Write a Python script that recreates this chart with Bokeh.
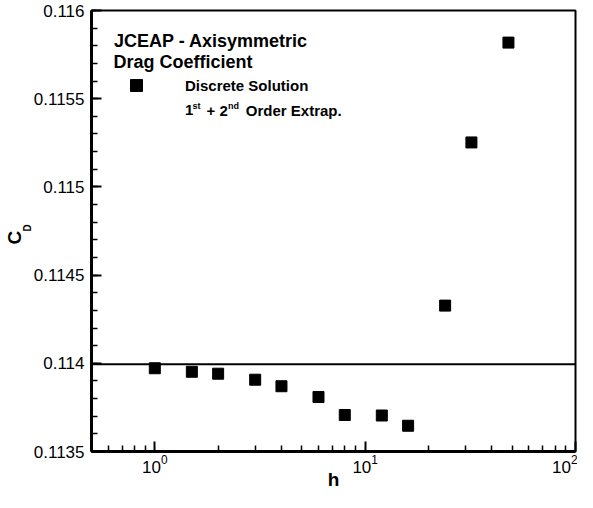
from bokeh.plotting import figure
from bokeh.models import (Range1d, FixedTicker, CustomJSTickFormatter, Span, Label,
                          Legend, LegendItem, LogTickFormatter, Title)
from bokeh.embed import file_html
from bokeh.resources import INLINE

# ---- data ----
h = [1, 1.5, 2, 3, 4, 6, 8, 12, 16, 24, 32, 48]
cd = [0.113972, 0.113952, 0.113941, 0.113907, 0.113870, 0.113809,
      0.113707, 0.113704, 0.113646, 0.114327, 0.115252, 0.115818]
cd_extrap = 0.113995

x_major = [1, 10, 100]
x_minor = [m * 10 ** e for e in (-1, 0, 1) for m in range(2, 10) if 0.5 <= m * 10 ** e <= 100]
y_major = [0.1135, 0.114, 0.1145, 0.115, 0.1155, 0.116]
y_minor = [round(0.1135 + i * 0.0001, 4) for i in range(26)]

FONT = "Liberation Sans"

p = figure(width=577, height=492, x_axis_type="log",
           x_range=Range1d(0.5, 100), y_range=Range1d(0.1135, 0.116),
           output_backend="svg", toolbar_location=None,
           min_border_left=91, min_border_right=2, min_border_top=10, min_border_bottom=39)
p.background_fill_color = "white"
p.border_fill_color = "white"
p.xgrid.visible = False
p.ygrid.visible = False
p.outline_line_color = "black"
p.outline_line_width = 2
p.outline_line_alpha = 1

for ax in (p.xaxis[0], p.yaxis[0]):
    ax.axis_line_width = 3
    ax.axis_line_color = "black"
    ax.major_tick_in = 10
    ax.major_tick_out = 0
    ax.minor_tick_in = 6
    ax.minor_tick_out = 0
    ax.major_tick_line_width = 2
    ax.minor_tick_line_width = 1.5
    ax.major_tick_line_color = "black"
    ax.minor_tick_line_color = "black"
    ax.major_label_text_font = FONT
    ax.major_label_text_font_size = "17px"
    ax.major_label_text_color = "black"
    ax.axis_label_text_font = FONT
    ax.axis_label_text_font_style = "bold"
    ax.axis_label_text_color = "black"

xa = p.xaxis[0]
xa.ticker = FixedTicker(ticks=x_major, minor_ticks=x_minor)
xa.formatter = LogTickFormatter()
xa.major_label_standoff = 3
xa.axis_label = "h"
xa.axis_label_text_font_size = "19px"
xa.axis_label_standoff = -7

ya = p.yaxis[0]
ya.ticker = FixedTicker(ticks=y_major, minor_ticks=y_minor)
ya.formatter = CustomJSTickFormatter(code="return String(Number(tick.toFixed(5)))")
ya.major_label_standoff = 7

# y axis label C with subscript D (two rotated titles in the left panel)
p.add_layout(Title(text="D", align="left", offset=220, standoff=-5, text_font=FONT,
                   text_font_size="10px", text_font_style="bold", text_color="black"), "left")
p.add_layout(Title(text="C", align="left", offset=207, standoff=-5, text_font=FONT,
                   text_font_size="19px", text_font_style="bold", text_color="black"), "left")

sq = p.scatter(h, cd, marker="square", size=11, fill_color="black",
               line_color="black", line_width=1)
p.add_layout(Span(location=cd_extrap, dimension="width", line_color="black", line_width=2))
dummy = p.line(x=[], y=[], line_color="black", line_width=2)


def make_legend(label, rend, loc):
    return Legend(items=[LegendItem(label=label, renderers=[rend])], location=loc,
                  glyph_width=72, glyph_height=30, padding=0, margin=0, spacing=0,
                  label_standoff=13, label_text_font=FONT, label_text_font_style="bold",
                  label_text_font_size="15px", label_text_color="black",
                  border_line_color=None, background_fill_alpha=0)


p.add_layout(make_legend("Discrete Solution", sq, (9, 351)))
p.add_layout(make_legend(" ", dummy, (9, 332.5)))


def lab(text, x, y, size):
    p.add_layout(Label(x=x, y=y, x_units="screen", y_units="screen", text=text,
                       text_font=FONT, text_font_size=size, text_font_style="bold",
                       text_color="black", text_baseline="alphabetic", text_align="left"))


# title
lab("JCEAP - Axisymmetric", 22.5, 410.3, "18px")
lab("Drag Coefficient", 22.0, 389.7, "18px")
# legend second entry text with superscripts
lab("1", 93.5, 341.3, "15px")
lab("st", 101.0, 345.7, "9px")
lab("+ 2", 115.0, 341.3, "15px")
lab("nd", 136.5, 345.7, "9px")
lab("Order Extrap.", 154.3, 341.3, "15px")

open("out.html", "w").write(file_html(p, INLINE))
